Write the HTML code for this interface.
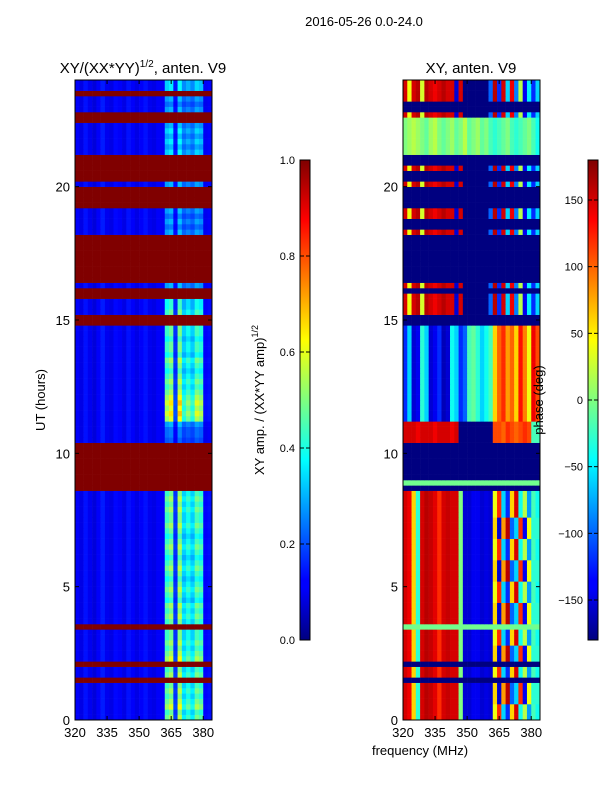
<!DOCTYPE html>
<html><head><meta charset="utf-8"><style>
body{margin:0;background:#fff;}
svg{display:block;font-family:"Liberation Sans",sans-serif;}
</style></head><body>
<svg id="fig" width="600" height="800" viewBox="0 0 600 800" xmlns="http://www.w3.org/2000/svg">
<defs>
<linearGradient id="jet" x1="0" y1="1" x2="0" y2="0">
<stop offset="0" stop-color="#00007f"/><stop offset="0.11" stop-color="#0000ff"/><stop offset="0.125" stop-color="#0000ff"/>
<stop offset="0.375" stop-color="#00ffff"/><stop offset="0.5" stop-color="#7fff7f"/><stop offset="0.625" stop-color="#ffff00"/>
<stop offset="0.875" stop-color="#ff0000"/><stop offset="1" stop-color="#7f0000"/>
</linearGradient>
</defs>
<text x="364" y="26" font-size="13" text-anchor="middle">2016-05-26 0.0-24.0</text>
<text x="143" y="73" font-size="15" text-anchor="middle">XY/(XX*YY)<tspan font-size="10" dy="-6">1/2</tspan><tspan dy="6">, anten. V9</tspan></text>
<text x="471" y="73" font-size="15" text-anchor="middle">XY, anten. V9</text>
<g id="leftPlot"></g>
<g id="rightPlot"></g>
<g id="axes"></g>
<text transform="translate(45,400) rotate(-90)" font-size="13" text-anchor="middle">UT (hours)</text>
<text x="420" y="755" font-size="13" text-anchor="middle">frequency (MHz)</text>
<rect x="300" y="160" width="10" height="480" fill="url(#jet)" stroke="#000" stroke-width="1"/>
<rect x="588" y="160" width="10" height="480" fill="url(#jet)" stroke="#000" stroke-width="1"/>
<text transform="translate(264,400) rotate(-90)" font-size="13" text-anchor="middle">XY amp. / (XX*YY amp)<tspan font-size="9" dy="-6">1/2</tspan></text>
<text transform="translate(543,400) rotate(-90)" font-size="13" text-anchor="middle">phase (deg)</text>
<g id="cbticks"></g>
</svg>
<script>
// ---- data ----
const freqBins = [320,322,324,326,328,330,332,334,336,338,340,342,344,346,348,350,352,354,356,358,360,362,364,366,368,370,372,374,376,378,380,382];
const ampColBase = [0.12,0.10,0.14,0.11,0.09,0.12,0.15,0.11,0.10,0.13,0.12,0.10,0.14,0.12,0.10,0.12,0.14,0.11,0.10,0.12,0.11,0.13,0.13,0.10,0.13,0.12,0.12,0.12,0.13,0.12,0.10,0.11];
const ampColBoost = [0,0,0,0,0,0,0,0,0,0,0,0,0,0,0,0,0,0,0,0,0.02,0.5,0.58,0.12,0.62,0.35,0.45,0.35,0.52,0.48,0.04,0.04];
// per 0.2 h row (bottom = 0 h)
const ampFlag = [0,0,0,0,0,0,0,1,0,0,1,0,0,0,0,0,0,1,0,0, 0,0,0,0,0,0,0,0,0,0,0,0,0,0,0,0,0,0,0,0, 0,0,0,1,1,1,1,1,1,1,1,1,0,0,0,0,0,0,0,0, 0,0,0,0,0,0,0,0,0,0,0,0,0,0,1,1,0,0,0,1, 1,0,1,1,1,1,1,1,1,1,1,0,0,0,0,0,1,1,1,1, 0,1,1,1,1,1,0,0,0,0,0,0,1,1,0,0,0,1,0,0];
const ampAct = [0.7,0.6,0.8,0.7,0.6,0.7,0.6,0,0.7,0.6,0,0.8,0.7,0.6,0.7,0.6,0.6,0,0.6,0.7, 0.6,0.7,0.5,0.6,0.7,0.6,0.5,0.6,0.7,0.6,0.5,0.6,0.7,0.6,0.5,0.6,0.7,0.6,0.6,0.7, 0.6,0.7,0.6,0,0,0,0,0,0,0,0,0, 0.15,0.2,0.2,0.3,0.8,0.9,0.8,0.9,0.8,0.7,0.6,0.7,0.6,0.5,0.6,0.7,0.5,0.6,0.6,0.5,0.6,0.6,0,0, 0.6,0.5,0.5,0, 0,0.3,0,0,0,0,0,0,0,0,0,0.3,0.2,0.3,0.2,0.3,0,0,0,0, 0.3,0,0,0,0,0,0.4,0.3,0.4,0.3,0.4,0.3,0,0,0.3,0.2,0.3,0,0.4,0.4];
const phaseMode = [2,2,2,6,6,6,6,0,2,2,0,6,6,6,2,2,2,1,6,6, 6,6,2,2,2,2,6,6,6,6,2,2,2,2,6,6,6,6,2,2, 2,2,2,0,1,0,0,0,0,0,0,0,7,7,7,7,3,3,3,3, 3,3,3,3,3,3,3,3,3,3,3,3,3,3,0,0,4,4,4,4, 0,4,0,0,0,0,0,0,0,0,0,4,0,0,4,4,0,0,0,0, 4,0,0,4,0,0,5,5,5,5,5,5,5,4,0,0,4,4,4,4];
const phaseProfile0 = [-180,-180,-180,-180,-180,-180,-180,-180,-180,-180,-180,-180,-180,-180,-180,-180,-180,-180,-180,-180,-180,-180,-180,-180,-180,-180,-180,-180,-180,-180,-180,-180];
const phaseProfile1 = [-5,-5,-5,-5,-5,-5,-5,-5,-5,-5,-5,-5,-5,-5,-5,-5,-5,-5,-5,-5,-5,-5,-5,-5,-5,-5,-5,-5,-5,-5,-5,-5];
const phaseProfile2 = [150,140,60,-30,150,160,155,145,120,150,155,150,150,0,-150,-150,-140,-140,-150,-145,-150,40,120,-60,-120,60,150,-40,20,-80,-20,-40];
const phaseProfile3 = [-120,-60,-150,-140,-30,-60,-150,-140,-120,-160,-150,-40,-60,-120,-100,-20,-10,-30,-60,-40,-20,60,100,120,80,100,60,130,90,40,140,110];
const phaseProfile4 = [150,40,150,160,30,160,150,140,150,160,150,150,-150,150,-180,-180,-180,-180,-180,-180,-100,160,-120,150,-60,140,-90,20,-140,-50,-120,-60];
const phaseProfile5 = [0,10,20,10,0,-10,10,20,0,-10,0,10,-10,0,20,-10,0,10,-10,0,-20,-30,-20,-10,0,-20,-30,-20,-10,0,-20,-40];
const phaseProfile6 = [150,140,60,-30,150,160,155,145,120,150,155,150,150,0,-150,-150,-140,-140,-150,-145,-150,60,-150,80,160,-100,-60,120,-140,40,-30,-30];
const phaseProfile7 = [150,150,150,140,150,150,150,140,150,150,150,140,150,-180,-180,-180,-180,-180,-180,-180,-180,110,110,100,120,110,100,110,120,110,-20,-20];
const ampTicks = [0.0,0.2,0.4,0.6,0.8,1.0];
const phaseTicks = [-150,-100,-50,0,50,100,150];
const hourTicks = [0,5,10,15,20];
const freqTicks = [320,335,350,365,380];
// ---- scales ----
const PL = {L:{x0:75,x1:212},R:{x0:403,x1:540},y0:720,y1:80};
const fx = (f,p)=> p.x0 + (f-320)*(p.x1-p.x0)/(384.1-320);
const hy = h => PL.y0 - h*(PL.y0-PL.y1)/24;
const NS='http://www.w3.org/2000/svg';
function clamp(v){return Math.max(0,Math.min(1,v));}
function jet(v){v=clamp(v);const r=clamp(1.5-Math.abs(4*v-3)),g=clamp(1.5-Math.abs(4*v-2)),b=clamp(1.5-Math.abs(4*v-1));return `rgb(${Math.round(r*255)},${Math.round(g*255)},${Math.round(b*255)})`;}
function mk(tag,attrs,parent){const e=document.createElementNS(NS,tag);for(const k in attrs)e.setAttribute(k,attrs[k]);parent.appendChild(e);return e;}
const profiles=[phaseProfile0,phaseProfile1,phaseProfile2,phaseProfile3,phaseProfile4,phaseProfile5,phaseProfile6,phaseProfile7];
const lg=document.getElementById('leftPlot'), rg=document.getElementById('rightPlot');
const rowH=0.2;
for(let i=0;i<ampFlag.length;i++){
  const yt=hy((i+1)*rowH), yb=hy(i*rowH);
  for(let j=0;j<freqBins.length;j++){
    const f0=freqBins[j], f1=j+1<freqBins.length?freqBins[j+1]:384.1;
    const v = ampFlag[i]?1:ampColBase[j]+ampColBoost[j]*ampAct[i];
    const r=mk('rect',{x:fx(f0,PL.L).toFixed(2),y:yt.toFixed(2),width:(fx(f1,PL.L)-fx(f0,PL.L)+0.3).toFixed(2),height:(yb-yt+0.3).toFixed(2),fill:jet(v)},lg);
    
    
    const p=profiles[phaseMode[i]][j];
    const r2=mk('rect',{x:fx(f0,PL.R).toFixed(2),y:yt.toFixed(2),width:(fx(f1,PL.R)-fx(f0,PL.R)+0.3).toFixed(2),height:(yb-yt+0.3).toFixed(2),fill:jet((p+180)/360)},rg);
    
    
  }
}
const ax=document.getElementById('axes');
for(const k of ['L','R']){
  const p=PL[k];
  const fr=mk('rect',{x:p.x0,y:PL.y1,width:p.x1-p.x0,height:PL.y0-PL.y1,fill:'none',stroke:'#000','stroke-width':1},ax);
  
  
  for(const h of hourTicks){
    const y=hy(h);
    mk('line',{x1:p.x0,x2:p.x0+4,y1:y,y2:y,stroke:'#000'},ax);
    mk('line',{x1:p.x1,x2:p.x1-4,y1:y,y2:y,stroke:'#000'},ax);
    const t=mk('text',{x:p.x0-5,y:y+5,'font-size':13,'text-anchor':'end'},ax);
    t.textContent=h;
    
    
  }
  for(const f of freqTicks){
    const x=fx(f,p);
    mk('line',{x1:x,x2:x,y1:PL.y0,y2:PL.y0-4,stroke:'#000'},ax);
    mk('line',{x1:x,x2:x,y1:PL.y1,y2:PL.y1+4,stroke:'#000'},ax);
    const t=mk('text',{x:x,y:737,'font-size':13,'text-anchor':'middle'},ax);
    t.textContent=f;
    
    
  }
}
const cb=document.getElementById('cbticks');
for(const v of ampTicks){
  const y=640-v*480;
  mk('line',{x1:300,x2:304,y1:y,y2:y,stroke:'#000'},cb);
  mk('line',{x1:310,x2:306,y1:y,y2:y,stroke:'#000'},cb);
  const t=mk('text',{x:295,y:y+4,'font-size':11,'text-anchor':'end'},cb);
  t.textContent=v.toFixed(1);
  
  
}
for(const v of phaseTicks){
  const y=640-(v+180)/360*480;
  mk('line',{x1:588,x2:592,y1:y,y2:y,stroke:'#000'},cb);
  mk('line',{x1:598,x2:594,y1:y,y2:y,stroke:'#000'},cb);
  const t=mk('text',{x:583,y:y+4,'font-size':11,'text-anchor':'end'},cb);
  t.textContent=v<0?'\u2212'+Math.abs(v):String(v);
  
  
}
</script>
</body></html>
